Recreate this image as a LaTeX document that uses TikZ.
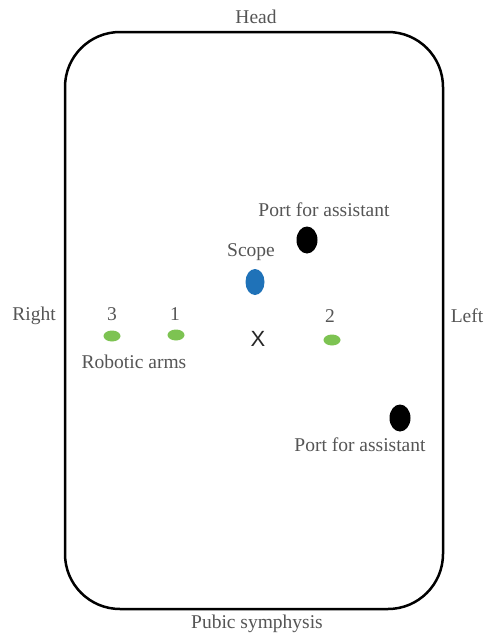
\documentclass[tikz,border=0pt]{standalone}
\usepackage{fontspec}
\usetikzlibrary{shapes.geometric}
\setmainfont{Liberation Serif}
\newfontfamily\xfont{Liberation Sans}
\definecolor{txtgray}{HTML}{555555}
\definecolor{armgreen}{HTML}{7DC352}
\definecolor{scopeblue}{HTML}{1F72B8}
\begin{document}
\begin{tikzpicture}[x=1pt,y=-1pt,
  lbl/.style={text=txtgray,font=\fontsize{19.5}{22}\selectfont,inner sep=0pt},
  arm/.style={ellipse,fill=armgreen,minimum width=17pt,minimum height=11pt,inner sep=0pt},
  port/.style={ellipse,fill=black,minimum width=21pt,minimum height=27pt,inner sep=0pt},
  scopedot/.style={ellipse,fill=scopeblue,minimum width=19pt,minimum height=26pt,inner sep=0pt}]
\useasboundingbox (0,0) rectangle (490,638);
\node[draw,line width=2.5pt,rounded corners=55pt,minimum width=378pt,minimum height=577pt,inner sep=0pt] (body) at (254,320.5) {};
\node[lbl] (head) at (256,17) {Head};
\node[lbl] (pubic) at (257,624) {Pubic symphysis};
\node[lbl] (right) at (34,316) {Right};
\node[lbl] (left) at (467,316) {Left};
\node[lbl] (port1lbl) at (324,210) {Port for assistant};
\node[port] (port1) at (307,240) {};
\node[lbl] (scopelbl) at (251,252) {Scope};
\node[scopedot] (scope) at (255,282) {};
\node[lbl] (n3) at (112,314) {3};
\node[lbl] (n1) at (175,314) {1};
\node[lbl] (n2) at (330,316) {2};
\node[arm] (arm3) at (112,336) {};
\node[arm] (arm1) at (176,335) {};
\node[arm] (arm2) at (332,340) {};
\node[inner sep=0pt,text=black!85,font=\xfont\fontsize{22}{24}\selectfont] (x) at (258,339) {X};
\node[lbl] (armslbl) at (134,362) {Robotic arms};
\node[port] (port2) at (400,418) {};
\node[lbl] (port2lbl) at (360,445) {Port for assistant};
\end{tikzpicture}
\end{document}
